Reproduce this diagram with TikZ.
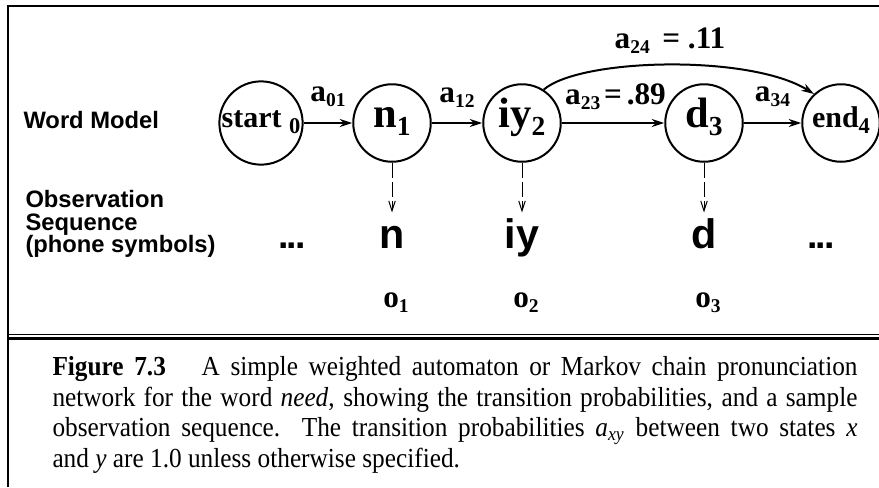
\documentclass[tikz,border=0pt]{standalone}
\usepackage{fontspec}
\setmainfont{Liberation Serif}
\setsansfont{Liberation Sans}
\newfontfamily\capfont[FakeStretch=0.92]{Liberation Serif}
\usetikzlibrary{arrows.meta, calc, positioning}

\newcommand{\bigst}[2]{{\fontsize{17}{17}\selectfont #1}\raisebox{-3.5pt}{\fontsize{11}{11}\selectfont #2}}
\newcommand{\smallst}[2]{{\fontsize{12}{12}\selectfont #1}\raisebox{-2.5pt}{\fontsize{9}{9}\selectfont #2}}
\newcommand{\prob}[2]{{\fontsize{12.5}{12.5}\selectfont #1}\raisebox{-2pt}{\fontsize{7.8}{7.8}\selectfont #2}}
\newcommand{\ellip}{.\kern-0.9pt.\kern-0.9pt.}

\begin{document}
\begin{tikzpicture}[x=0.4pt, y=0.4pt, >={Stealth[length=5pt, width=3.2pt]},
    state/.style={circle, draw, line width=0.8pt, minimum size=31pt, inner sep=0pt,
        font=\bfseries, text height=7.2pt, text depth=4pt},
    trans/.style={->, line width=0.8pt},
    emit/.style={-{Straight Barb[length=4pt, width=2.6pt]}, line width=0.4pt,
        dash pattern=on 6pt off 1.6pt},
    sidelab/.style={font=\sffamily\bfseries\fontsize{9.5}{9}\selectfont, inner sep=0pt, align=left},
    phone/.style={font=\sffamily\bfseries\fontsize{16.5}{16.5}\selectfont, inner sep=2pt,
        text height=12pt, text depth=3pt},
    dots/.style={font=\sffamily\bfseries\fontsize{15}{15}\selectfont, inner sep=2pt},
    problab/.style={font=\bfseries, inner sep=1pt}]
    % 1. Frame
    \useasboundingbox (0,0) rectangle (879,-487);
    \draw[line width=0.9pt] (8,-487) -- (8,-6) -- (879,-6);
    \draw[line width=0.4pt] (8,-334) -- (879,-334);
    \draw[line width=1pt] (8,-338.5) -- (879,-338.5);

    % 2. States of the word model
    \node[state] (s0) at (261,-123) {\smallst{start\ }{0}};
    \node[state] (n1) at (392,-123) {\bigst{n}{1}};
    \node[state] (iy2) at (522,-123) {\bigst{iy}{2}};
    \node[state] (d3) at (704,-123) {\bigst{d}{3}};
    \node[state] (e4) at (841,-123) {\smallst{end}{4}};

    % 3. Transitions
    \draw[trans] (s0) -- node[problab, above=5pt] {\prob{a}{01}} (n1);
    \draw[trans] (n1) -- node[problab, above=5pt] {\prob{a}{12}} (iy2);
    \draw[trans] (iy2) -- node[problab, above=4pt, xshift=1pt] {\prob{a}{23}{\fontsize{12.5}{12.5}\selectfont\kern1.5pt=\kern2pt.89}} (d3);
    \draw[trans] (d3) -- node[problab, above=5pt] {\prob{a}{34}} (e4);
    \draw[trans] (iy2.57) .. controls (580,-58) and (750,-54) .. (e4.133);
    \node[problab] (p24) at (670,-41) {\prob{a}{24}{\fontsize{12.5}{12.5}\selectfont\kern5pt= .11}};

    % 4. Labels on the left
    \node[sidelab, anchor=base west] (wm) at (23,-128) {Word Model};
    \node[sidelab, anchor=north west] (obs) at (25,-190) {Observation\\Sequence\\(phone symbols)};

    % 5. Observation sequence
    \node[dots, anchor=base] (dotl) at (292,-248) {\ellip};
    \node[phone, anchor=base] (on) at (392,-248) {n};
    \node[phone, anchor=base] (oiy) at (522,-248) {iy};
    \node[phone, anchor=base] (od) at (704,-248) {d};
    \node[dots, anchor=base] (dotr) at (821,-248) {\ellip};
    \draw[emit] (n1) -- (on);
    \draw[emit] (iy2) -- (oiy);
    \draw[emit] (d3) -- (od);

    \node[problab, anchor=base] (o1) at (396,-307) {\prob{o}{1}};
    \node[problab, anchor=base] (o2) at (526,-307) {\prob{o}{2}};
    \node[problab, anchor=base] (o3) at (708,-307) {\prob{o}{3}};

    % 6. Caption
    \node[anchor=north west, inner sep=0pt, text width=322pt, align=justify,
        font=\capfont\fontsize{11}{12.2}\selectfont] (cap) at (52,-356)
        {\textbf{Figure 7.3}\hspace{1.3em}A simple weighted automaton or Markov chain pronunciation\linebreak
        network for the word \textit{need}, showing the transition probabilities, and a sample\linebreak
        observation sequence.  The transition probabilities \textit{a}\textsubscript{\textit{xy}} between two states \textit{x}\linebreak
        and \textit{y} are 1.0 unless otherwise specified.};
\end{tikzpicture}
\end{document}
